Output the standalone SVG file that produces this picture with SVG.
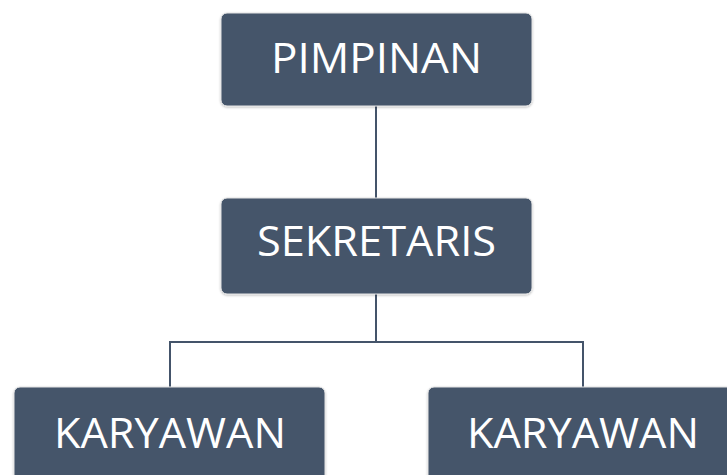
<svg xmlns="http://www.w3.org/2000/svg" width="727" height="475" viewBox="0 0 727 475">
<defs>
<filter id="sh" x="-5%" y="-5%" width="110%" height="115%">
<feDropShadow dx="0" dy="1" stdDeviation="1.2" flood-color="#000" flood-opacity="0.25"/>
</filter>
</defs>
<style>
.box{fill:#44546a;stroke:#e4e4e4;stroke-width:1;filter:url(#sh)}
.lbl{fill:#ffffff;font-family:"Open Sans","Noto Sans",sans-serif;font-size:42px;text-anchor:middle}
.con{stroke:#44546a;stroke-width:2;fill:none}
</style>
<rect width="727" height="475" fill="#ffffff"/>
<g id="connectors">
<line class="con" x1="376" y1="106" x2="376" y2="198"/>
<path class="con" d="M376 294 V342 M170 387 V342 H583 V387"/>
</g>
<g id="pimpinan">
<rect class="box" x="221" y="13" width="311" height="93" rx="6"/>
<text class="lbl" x="376.5" y="73" textLength="211" lengthAdjust="spacingAndGlyphs">PIMPINAN</text>
</g>
<g id="sekretaris">
<rect class="box" x="221" y="198" width="311" height="96" rx="6"/>
<text class="lbl" x="376.5" y="256" textLength="239" lengthAdjust="spacingAndGlyphs">SEKRETARIS</text>
</g>
<g id="karyawan1">
<rect class="box" x="14" y="387" width="311" height="96" rx="6"/>
<text class="lbl" x="170" y="448" textLength="232" lengthAdjust="spacingAndGlyphs">KARYAWAN</text>
</g>
<g id="karyawan2">
<rect class="box" x="428" y="387" width="311" height="96" rx="6"/>
<text class="lbl" x="583" y="448" textLength="232" lengthAdjust="spacingAndGlyphs">KARYAWAN</text>
</g>
</svg>
